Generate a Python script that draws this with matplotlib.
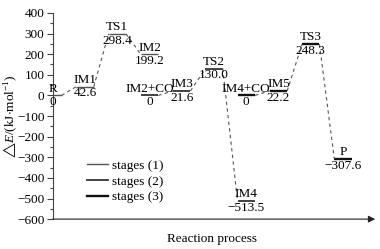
import matplotlib
matplotlib.use('Agg')
import matplotlib.pyplot as plt
from matplotlib.ticker import MultipleLocator

plt.rcParams['font.family'] = ['Liberation Serif', 'DejaVu Sans']
plt.rcParams['mathtext.fontset'] = 'custom'
plt.rcParams['mathtext.rm'] = 'Liberation Serif'
plt.rcParams['mathtext.it'] = 'Liberation Serif:italic'
plt.rcParams['mathtext.fallback'] = 'stix'
plt.rcParams['axes.unicode_minus'] = True

# data
names = ['R', 'IM1', 'TS1', 'IM2', 'IM2+CO', 'IM3', 'TS2', 'IM4', 'IM4+CO', 'IM5', 'TS3', 'P']
energies = [0, 42.6, 298.4, 199.2, 0, 21.6, 130.0, -513.5, 0, 22.2, 248.3, -307.6]
values = ['0', '42.6', '298.4', '199.2', '0', '21.6', '130.0', '\u2212513.5', '0', '22.2', '248.3', '\u2212307.6']
steps = [0, 1, 2, 3, 3, 4, 5, 6, 6, 7, 8, 9]
stages = [1, 1, 1, 1, 2, 2, 2, 2, 3, 3, 3, 3]
stage_labels = ['stages (1)', 'stages (2)', 'stages (3)']

styles = {1: ('#555555', 1.0), 2: ('#333333', 1.3), 3: ('#111111', 1.7)}
hw = 0.27
fs = 9.5

fig = plt.figure(figsize=(3.8, 2.49), dpi=100)
ax = fig.add_axes([0.139, 0.12, 0.84, 0.828])

for i in range(len(names)):
    c, lw = styles[stages[i]]
    x, e = steps[i], energies[i]
    ax.plot([x - hw, x + hw], [e, e], color=c, lw=lw, solid_capstyle='butt')
    ax.text(x, e + 4, names[i], ha='center', va='bottom', fontsize=fs)
    ax.text(x, e - 4, values[i], ha='center', va='top', fontsize=fs)
    if i > 0 and stages[i] == stages[i - 1]:
        ax.plot([steps[i - 1] + hw, x - hw], [energies[i - 1], e],
                color='#555555', lw=0.8, ls=(0, (3, 3)))

for s in (1, 2, 3):
    c, lw = styles[s]
    ax.plot([], [], color=c, lw=lw, label=stage_labels[s - 1])
ax.legend(loc='lower left', bbox_to_anchor=(0.07, 0.02), frameon=False,
          fontsize=fs, handlelength=1.6, handletextpad=0.3, labelspacing=0.25)

ax.set_xlim(0, 9.9)
ax.set_ylim(-600, 400)
ax.yaxis.set_major_locator(MultipleLocator(100))
ax.yaxis.set_minor_locator(MultipleLocator(50))
ax.tick_params(axis='y', which='major', length=4, width=0.8, labelsize=fs, pad=2, color='#444444')
ax.tick_params(axis='y', which='minor', length=2, width=0.8, color='#444444')
ax.set_xticks([])
for sp in ('top', 'right', 'bottom'):
    ax.spines[sp].set_visible(False)
ax.spines['left'].set_color('#444444')
ax.spines['left'].set_linewidth(0.8)

ax.annotate('', xy=(1.01, 0), xycoords='axes fraction', xytext=(0, 0),
            arrowprops=dict(arrowstyle='-|>', color='#222222', lw=0.8,
                            mutation_scale=10, shrinkA=0, shrinkB=0))

ax.set_ylabel(r'$\bigtriangleup E$/(kJ$\cdot$mol$^{-1}$)', fontsize=fs)
ax.yaxis.set_label_coords(-0.105, 0.5)
ax.set_xlabel('Reaction process', fontsize=fs, labelpad=10)

fig.savefig('out.png', dpi=100)
